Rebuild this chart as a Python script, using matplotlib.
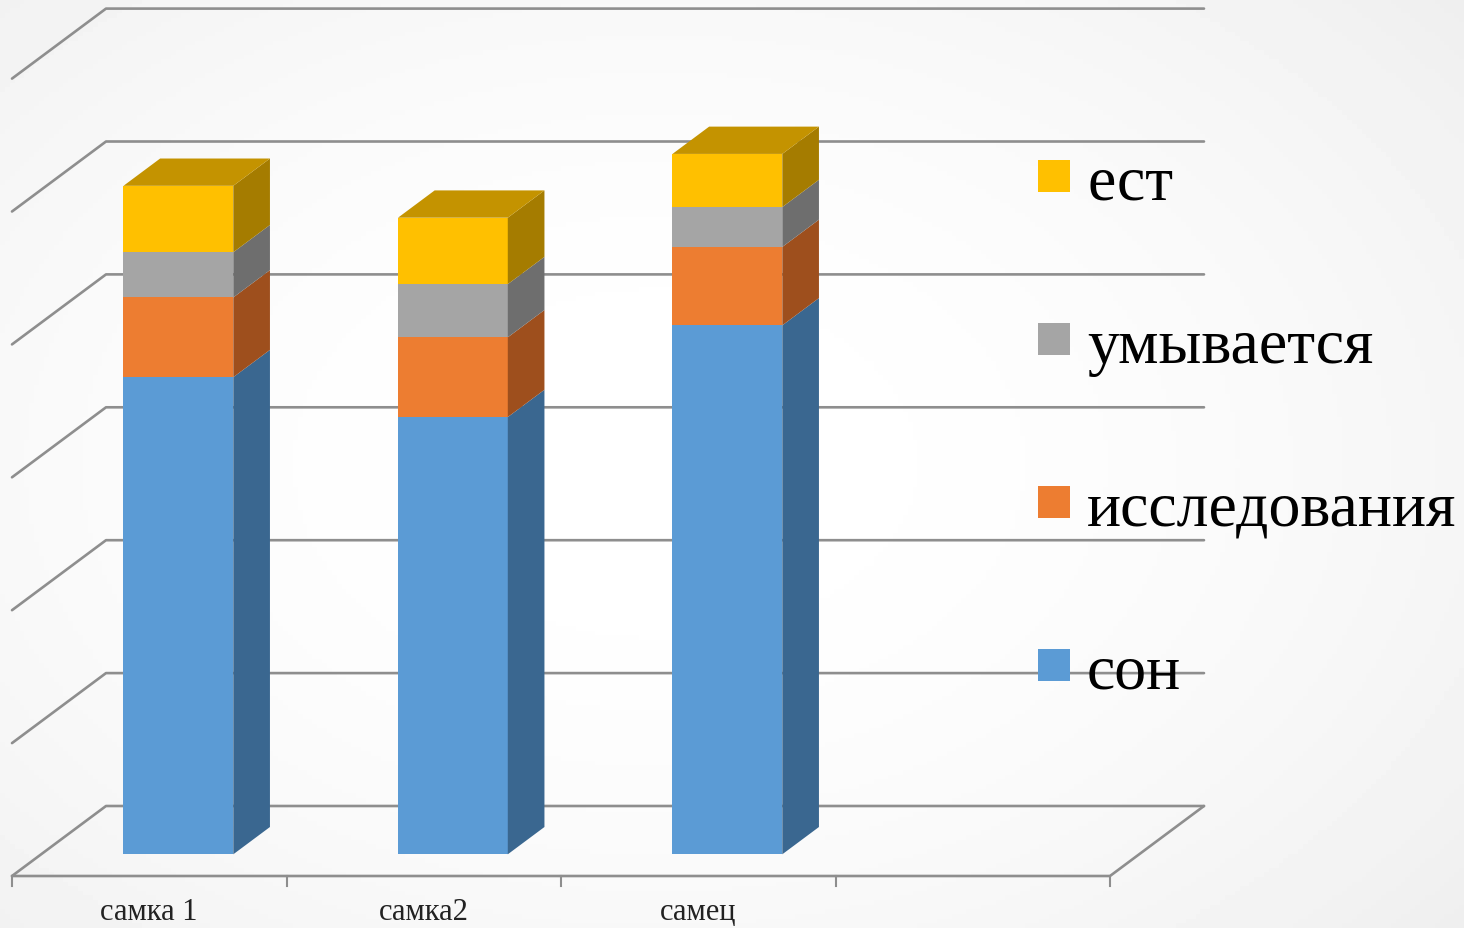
import numpy as np
import matplotlib
matplotlib.use("Agg")
import matplotlib.pyplot as plt
from matplotlib.patches import Polygon, Rectangle

# данные (в единицах сетки)
categories = ["самка 1", "самка2", "самец", ""]
series = ["сон", "исследования", "умывается", "ест"]
son = [3.59, 3.29, 3.98]
issl = [0.60, 0.60, 0.59]
umyv = [0.34, 0.40, 0.30]
est = [0.50, 0.50, 0.40]
values = [son, issl, umyv, est]

front_cols = ["#5B9BD5", "#ED7D31", "#A5A5A5", "#FFC000"]
side_cols = ["#3A6790", "#9E4F1D", "#6E6E6E", "#A57C00"]
top_col = "#C49300"
grid_col = "#8E8E8E"

W, H = 1464, 929
fig = plt.figure(figsize=(W / 100, H / 100), dpi=100)

# фон с мягким градиентом
bg = fig.add_axes([0, 0, 1, 1])
yy, xx = np.mgrid[0:1:200j, 0:1:300j]
r = np.sqrt(((xx - 0.45) / 0.75) ** 2 + ((yy - 0.5) / 0.8) ** 2)
bg.imshow(1 - 0.07 * np.clip(r, 0, 1) ** 2, cmap="gray", vmin=0, vmax=1,
          aspect="auto", extent=[0, 1, 0, 1])
bg.axis("off")

ax = fig.add_axes([0, 0, 1, 1])
ax.patch.set_alpha(0)
px_x = 274.5   # пикселей на категорию
px_y = 132.9   # пикселей на деление сетки
ax.set_xlim(-12 / px_x, -12 / px_x + W / px_x)
ax.set_ylim(-52 / px_y, -52 / px_y + H / px_y)
ax.axis("off")

DX, DY = 94 / px_x, 70 / px_y   # глубина пола/стенки
nslot = len(categories)
nbar = len(son)
lw = 1.9

# сетка на задней и левой стенке
for v in range(7):
    ax.plot([0, DX, nslot + DX], [v, v + DY, v + DY], color=grid_col, lw=lw,
            zorder=1, solid_capstyle="round")
# пол
ax.plot([0, nslot, nslot + DX], [0, 0, DY], color=grid_col, lw=lw, zorder=1,
        solid_capstyle="round")
for i in range(nslot + 1):
    ax.plot([i, i], [0, -10 / px_y], color=grid_col, lw=1.5, zorder=1)
for i, c in enumerate(categories):
    ax.text(i + 0.5, -43 / px_y, c, ha="center", va="baseline",
            fontsize=22, family="Liberation Serif", color="#222222")

# столбики
f0, f1 = 0.31, 0.70
bw = 0.40
for i in range(nbar):
    x0 = i + 0.30 + f0 * DX
    x1 = x0 + bw
    ox, oy = (f1 - f0) * DX, (f1 - f0) * DY
    base = f0 * DY
    bottom = 0.0
    for s in range(len(series)):
        h = values[s][i]
        y0, y1 = base + bottom, base + bottom + h
        ax.bar(x0, h, width=bw, bottom=y0, align="edge", color=front_cols[s],
               lw=0, zorder=3 + i)
        ax.add_patch(Polygon([(x1, y0), (x1 + ox, y0 + oy), (x1 + ox, y1 + oy), (x1, y1)],
                             closed=True, facecolor=side_cols[s], lw=0, zorder=3 + i))
        bottom += h
    yt = base + bottom
    ax.add_patch(Polygon([(x0, yt), (x1, yt), (x1 + ox, yt + oy), (x0 + ox, yt + oy)],
                         closed=True, facecolor=top_col, lw=0, zorder=3 + i))

# легенда
leg_y = [177, 340, 503, 666]
for k, s in enumerate(series[::-1]):
    col = front_cols[len(series) - 1 - k]
    yc = leg_y[k]
    fig.add_artist(Rectangle(((1038) / W, 1 - (yc + 16) / H), 32 / W, 32 / H,
                             transform=fig.transFigure, facecolor=col, lw=0, zorder=10))
    fig.text(1087 / W, 1 - (yc + 23) / H, s, ha="left", va="baseline",
             fontsize=46, family="Liberation Serif", color="black", zorder=0.5)

fig.savefig("out.png", dpi=100)
